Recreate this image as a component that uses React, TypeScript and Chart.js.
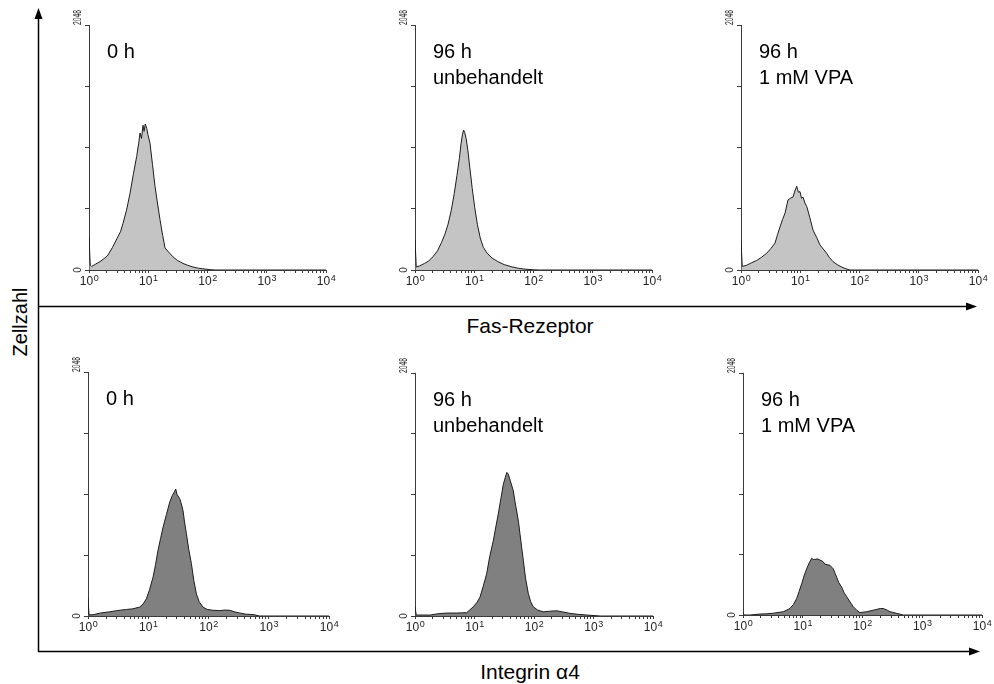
import React, { useEffect, useRef } from "react";
import { Chart, registerables } from "chart.js";

Chart.register(...registerables);

// ---------- tick definitions ----------
const decadeValues = [1, 10, 100, 1000, 10000];
const decadeExponents = ["0", "1", "2", "3", "4"];
const minorMultipliers = [2, 3, 4, 5, 6, 7, 8, 9];
const yTickValues = [0, 512, 1024, 1536, 2048];
const yTickLabels = ["0", "", "", "", "2048"];

// ---------- texts ----------
const titles0h = ["0 h"];
const titles96hUnb = ["96 h", "unbehandelt"];
const titles96hVpa = ["96 h", "1 mM VPA"];
const xTitleTop = "Fas-Rezeptor";
const xTitleBottom = "Integrin α4";
const yTitle = "Zellzahl";

// ---------- histogram data [fluorescence, count] ----------
const fas0h: [number, number][] = [
  [1, 0], [1, 270], [1.05, 40], [1.11, 30], [1.3, 50], [1.53, 70], [1.8, 95], [2.09, 125],
  [2.5, 190], [3.09, 280], [3.4, 320], [3.75, 390], [4.3, 500], [4.92, 640], [5.6, 800],
  [6.38, 950], [6.9, 1060], [7.26, 1145], [7.7, 1100], [8.15, 1210], [8.5, 1160], [8.9, 1220],
  [9.42, 1185], [9.9, 1130], [10.7, 1060], [11.8, 880], [13.0, 700], [14.3, 560], [15.8, 420],
  [17.5, 290], [19.2, 185], [22, 150], [26.2, 110], [31, 80], [38.6, 55], [46, 40], [56.9, 25],
  [70, 15], [84, 10], [110, 3], [134, 0], [10000, 0],
];

const fas96hUnb: [number, number][] = [
  [1, 0], [1, 250], [1.05, 25], [1.2, 35], [1.45, 55], [1.7, 75], [2.0, 110], [2.4, 160],
  [2.8, 230], [3.2, 300], [3.6, 380], [4.1, 500], [4.6, 640], [5.1, 790], [5.6, 930],
  [6.0, 1060], [6.3, 1130], [6.6, 1170], [6.9, 1150], [7.3, 1100], [7.8, 1000], [8.4, 860],
  [9.2, 690], [10.2, 520], [11.3, 380], [12.6, 270], [14.2, 190], [16.5, 140], [20, 100],
  [25, 70], [32, 45], [42, 28], [55, 15], [72, 7], [100, 2], [125, 0], [10000, 0],
];

const fas96hVpa: [number, number][] = [
  [1, 0], [1, 235], [1.05, 30], [1.25, 40], [1.5, 60], [1.84, 80], [2.2, 105], [2.71, 140],
  [3.2, 180], [3.75, 225], [4.1, 290], [4.55, 360], [5.0, 420], [5.53, 475], [6.21, 585],
  [6.8, 600], [7.55, 610], [8.1, 660], [8.71, 700], [9.3, 650], [9.91, 655], [10.5, 600],
  [11.1, 610], [12.0, 560], [12.9, 530], [14.5, 440], [16.4, 335], [19, 270], [21.5, 210],
  [24.5, 175], [27.9, 140], [31, 105], [35.7, 70], [42, 45], [50, 25], [59, 10], [69, 0], [10000, 0],
];

const int0h: [number, number][] = [
  [1, 0], [1, 150], [1.04, 10], [1.21, 10], [1.6, 25], [2.29, 35], [3.0, 45], [4.34, 55],
  [5.5, 60], [7.21, 75], [8.2, 100], [9.31, 145], [10.5, 220], [12.0, 325], [13.2, 430],
  [14.5, 550], [16, 650], [17.6, 745], [20, 850], [22.7, 955], [25, 1010], [27, 1040],
  [28.6, 1065], [30, 1020], [33.3, 985], [35, 950], [37.8, 885], [40, 790], [43.0, 690],
  [47, 560], [52.0, 440], [57, 300], [63, 185], [70, 120], [81, 75], [95, 55], [119, 48],
  [150, 45], [190, 50], [225, 48], [270, 35], [330, 25], [420, 15], [548, 12], [708, 0], [10000, 0],
];

const int96hUnb: [number, number][] = [
  [1, 0], [1, 75], [1.05, 8], [1.79, 8], [2.5, 20], [3.41, 25], [5, 25], [7.39, 28], [9.55, 78],
  [11, 115], [12.4, 160], [14, 250], [16.0, 355], [18, 500], [20.7, 635], [23, 760], [25.1, 860],
  [28, 1000], [30.5, 1110], [33, 1170], [35, 1210], [37.0, 1195], [40, 1140], [44.9, 1055],
  [48, 960], [51.2, 885], [55, 790], [58.2, 690], [62, 580], [66.1, 470], [72, 320], [80.2, 190],
  [88, 120], [97.3, 78], [115, 50], [143, 35], [180, 40], [241, 44], [300, 35], [403, 22],
  [550, 14], [769, 8], [1288, 0], [10000, 0],
];

const int96hVpa: [number, number][] = [
  [1, 0], [1, 20], [1.05, 0], [1.31, 0], [1.93, 8], [2.5, 10], [3.21, 15], [4.73, 28], [6.12, 55],
  [7.0, 90], [7.92, 140], [8.7, 200], [9.6, 265], [10.5, 330], [11.6, 390], [12.8, 440],
  [14.1, 480], [15, 470], [16.0, 470], [17.5, 475], [19.4, 465], [21.5, 455], [23.6, 430],
  [26, 425], [28.6, 420], [30.5, 405], [32.5, 390], [35, 350], [37.0, 320], [40, 275], [44.9, 235],
  [49, 190], [54.4, 155], [62, 110], [70.2, 70], [80, 40], [90.8, 20], [117, 28], [150, 40],
  [173, 48], [200, 55], [223, 55], [260, 40], [289, 28], [373, 14], [482, 0], [10000, 0],
];

// ---------- styling / layout (not data) ----------
const FONT = '"Liberation Sans", Arial, Helvetica, sans-serif';
const LIGHT_FILL = "rgb(196,196,196)";
const DARK_FILL = "rgb(128,128,128)";
const AXIS_COLOR = "#3a3a3a";
const TICK_TEXT = "#222";

type PanelSpec = {
  left: number; top: number; right: number; bottom: number;
  data: [number, number][]; fill: string; titles: string[];
};

const panels: PanelSpec[] = [
  { left: 89, top: 25, right: 326, bottom: 270, data: fas0h, fill: LIGHT_FILL, titles: titles0h },
  { left: 415, top: 25, right: 652, bottom: 270, data: fas96hUnb, fill: LIGHT_FILL, titles: titles96hUnb },
  { left: 741, top: 25, right: 978, bottom: 270, data: fas96hVpa, fill: LIGHT_FILL, titles: titles96hVpa },
  { left: 88, top: 372, right: 329, bottom: 616, data: int0h, fill: DARK_FILL, titles: titles0h },
  { left: 415, top: 373, right: 653, bottom: 616, data: int96hUnb, fill: DARK_FILL, titles: titles96hUnb },
  { left: 743, top: 373, right: 982, bottom: 615, data: int96hVpa, fill: DARK_FILL, titles: titles96hVpa },
];

const PAD_L = 8;
const Y_W = 11;
const PAD_T = 16;
const PAD_R = 14;
const X_H = 18;

const xTickValues: number[] = [];
decadeValues.forEach((d, i) => {
  xTickValues.push(d);
  if (i < decadeValues.length - 1) minorMultipliers.forEach((m) => xTickValues.push(d * m));
});

function Panel({ spec }: { spec: PanelSpec }) {
  const ref = useRef<HTMLCanvasElement>(null);
  const plotW = spec.right - spec.left;
  const plotH = spec.bottom - spec.top;
  const cw = PAD_L + Y_W + plotW + PAD_R;
  const ch = PAD_T + plotH + X_H;

  useEffect(() => {
    if (!ref.current) return;
    const labelPlugin = {
      id: "panelLabels",
      afterDraw(chart: any) {
        const ctx = chart.ctx;
        const ca = chart.chartArea;
        const xs = chart.scales.x;
        const ys = chart.scales.y;
        ctx.save();
        // panel annotation
        ctx.font = `20px ${FONT}`;
        ctx.fillStyle = "#000";
        ctx.textAlign = "left";
        ctx.textBaseline = "alphabetic";
        spec.titles.forEach((t, i) => ctx.fillText(t, ca.left + 18, ca.top + 33 + i * 26));

        // decade labels 10^n
        ctx.fillStyle = TICK_TEXT;
        decadeValues.forEach((d, i) => {
          const px = xs.getPixelForValue(d);
          ctx.font = `12px ${FONT}`;
          const wBase = ctx.measureText("10").width;
          ctx.font = `9px ${FONT}`;
          const wExp = ctx.measureText(decadeExponents[i]).width;
          const x0 = px - (wBase + wExp) / 2;
          ctx.font = `12px ${FONT}`;
          ctx.fillText("10", x0, ca.bottom + 15);
          ctx.font = `9px ${FONT}`;
          ctx.fillText(decadeExponents[i], x0 + wBase + 0.5, ca.bottom + 11);
        });

        // y labels (rotated)
        ctx.font = `10px ${FONT}`;
        ctx.textBaseline = "middle";
        yTickValues.forEach((v, i) => {
          const lab = yTickLabels[i];
          if (!lab) return;
          const py = ys.getPixelForValue(v);
          ctx.save();
          ctx.translate(ca.left - 11, py);
          ctx.rotate(-Math.PI / 2);
          if (i === 0) {
            ctx.textAlign = "center";
            ctx.fillText(lab, 0, 0);
          } else {
            ctx.textAlign = "left";
            ctx.fillText(lab, 0, 0, 15);
          }
          ctx.restore();
        });
        ctx.restore();
      },
    };
    const chart = new Chart(ref.current, {
      type: "line",
      data: {
        datasets: [
          {
            data: spec.data.map(([x, y]) => ({ x, y })),
            fill: "origin",
            backgroundColor: spec.fill,
            borderColor: "#1c1c1c",
            borderWidth: 1,
            pointRadius: 0,
            tension: 0,
          },
        ],
      },
      options: {
        animation: false,
        responsive: false,
        events: [],
        layout: { padding: { left: PAD_L, top: PAD_T, right: PAD_R, bottom: 0 } },
        plugins: { legend: { display: false }, tooltip: { enabled: false } },
        scales: {
          x: {
            type: "logarithmic",
            min: 1,
            max: 10000,
            afterBuildTicks: (s: any) => {
              s.ticks = xTickValues.map((v) => ({ value: v }));
            },
            afterFit: (s: any) => {
              s.height = X_H;
            },
            ticks: {
              autoSkip: false,
              maxRotation: 0,
              minRotation: 0,
              padding: 1,
              color: TICK_TEXT,
              font: { family: FONT, size: 11 },
              callback: () => "",
            },
            grid: { display: true, drawOnChartArea: false, drawTicks: true, tickLength: 3, color: AXIS_COLOR },
            border: { display: true, color: AXIS_COLOR, width: 1 },
          },
          y: {
            type: "linear",
            min: 0,
            max: 2048,
            afterBuildTicks: (s: any) => {
              s.ticks = yTickValues.map((v) => ({ value: v }));
            },
            afterFit: (s: any) => {
              s.width = Y_W;
            },
            ticks: {
              autoSkip: false,
              color: TICK_TEXT,
              font: { family: FONT, size: 9 },
              callback: () => "",
            },
            grid: { display: true, drawOnChartArea: false, drawTicks: true, tickLength: 4, color: AXIS_COLOR },
            border: { display: true, color: AXIS_COLOR, width: 1 },
          },
        },
      } as any,
      plugins: [labelPlugin],
    });
    return () => chart.destroy();
  }, []);

  return (
    <canvas
      ref={ref}
      width={cw}
      height={ch}
      style={{
        position: "absolute",
        left: spec.left - PAD_L - Y_W,
        top: spec.top - PAD_T,
        width: cw,
        height: ch,
      }}
    />
  );
}

export default function App() {
  return (
    <div
      style={{
        position: "fixed",
        left: 0,
        top: 0,
        width: 994,
        height: 684,
        background: "#fff",
        overflow: "hidden",
        fontFamily: FONT,
        color: "#000",
      }}
    >
      <svg width={994} height={684} style={{ position: "absolute", left: 0, top: 0 }}>
        <line x1={38.5} y1={652} x2={38.5} y2={16} stroke="#000" strokeWidth={1.5} />
        <polygon points="38.5,8 34.5,19 42.5,19" fill="#000" />
        <line x1={38} y1={306.5} x2={968} y2={306.5} stroke="#000" strokeWidth={1.5} />
        <polygon points="977,306.5 966,302.5 966,310.5" fill="#000" />
        <line x1={38} y1={651.5} x2={971} y2={651.5} stroke="#000" strokeWidth={1.5} />
        <polygon points="980,651.5 969,647.5 969,655.5" fill="#000" />
      </svg>
      {panels.map((p, i) => (
        <Panel key={i} spec={p} />
      ))}
      <div
        style={{
          position: "absolute",
          left: 430,
          top: 314,
          width: 200,
          textAlign: "center",
          fontSize: 21,
          lineHeight: "24px",
        }}
      >
        {xTitleTop}
      </div>
      <div
        style={{
          position: "absolute",
          left: 430,
          top: 660,
          width: 200,
          textAlign: "center",
          fontSize: 21,
          lineHeight: "24px",
        }}
      >
        {xTitleBottom}
      </div>
      <div
        style={{
          position: "absolute",
          left: 20,
          top: 322,
          transform: "translate(-50%, -50%) rotate(-90deg)",
          fontSize: 20,
          lineHeight: "24px",
          whiteSpace: "nowrap",
        }}
      >
        {yTitle}
      </div>
    </div>
  );
}
